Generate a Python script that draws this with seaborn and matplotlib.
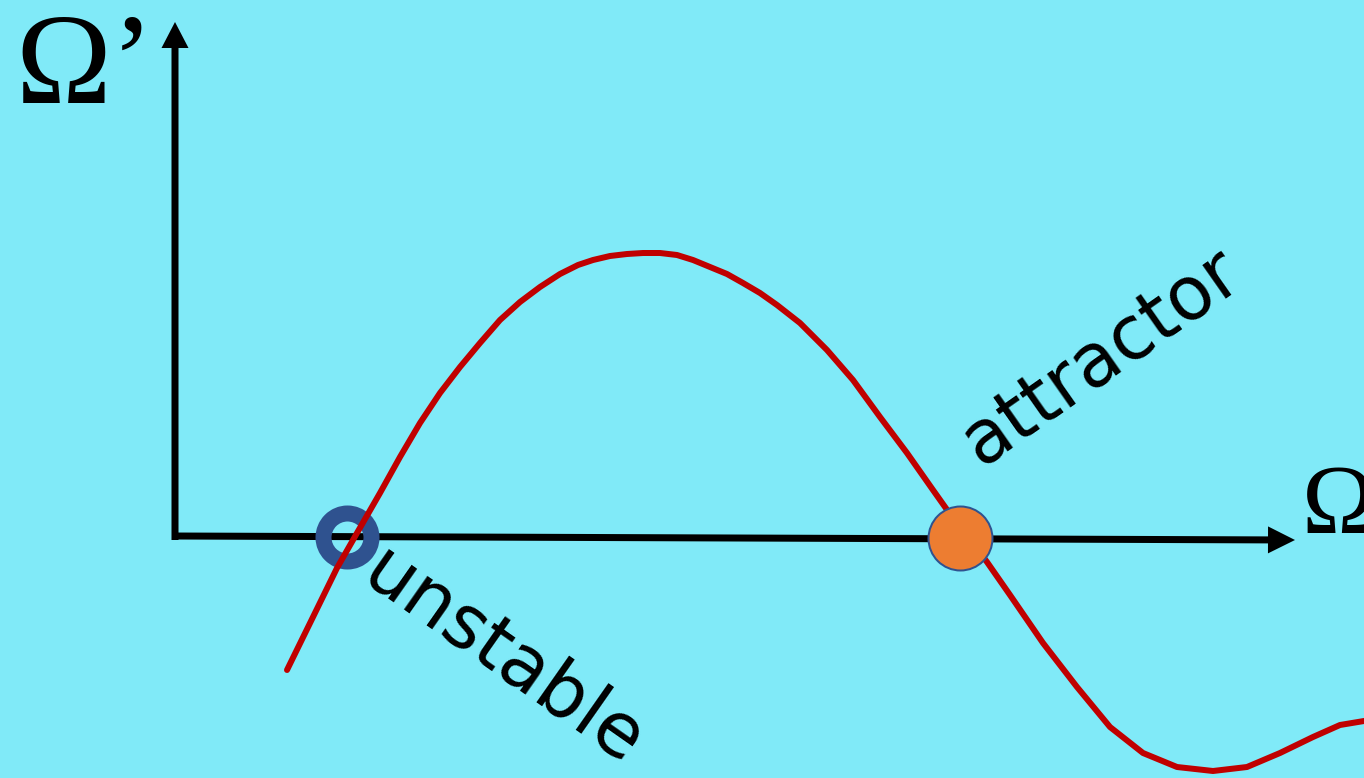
import matplotlib
matplotlib.use("Agg")
import matplotlib.pyplot as plt
import seaborn as sns
import pandas as pd

# ---- data (in picture units: x to the right, y downward) ----
curve_x = [287, 313, 337, 357, 380, 400, 420, 440, 460, 480, 500, 520, 540, 560,
           578, 593, 610, 627, 643, 660, 677, 693, 710, 727, 743, 760, 777, 800,
           827, 853, 880, 907, 933, 950, 987, 1010, 1043, 1077, 1110, 1143,
           1177, 1213, 1247, 1280, 1313, 1340, 1364]
curve_y = [670, 617, 568, 533, 493, 457, 423, 393, 367, 343, 320, 302, 287, 274,
           265, 260, 256, 254, 253, 253, 255, 260, 267, 274, 283, 293, 305, 323,
           350, 380, 417, 453, 490, 514, 562, 595, 643, 687, 727, 753,
           767, 771, 767, 753, 737, 725, 721]
unstable_pt = (347, 537)
attractor_pt = (960, 538)
labels = {"y_axis": "Ω’", "x_axis": "Ω", "unstable": "unstable", "attractor": "attractor"}

BG = "#80EAF8"
sns.set_theme(style="white")
plt.rcParams["font.family"] = ["DejaVu Sans"]

fig = plt.figure(figsize=(13.64, 7.78), dpi=100)
fig.patch.set_facecolor(BG)
ax = fig.add_axes([0, 0, 1, 1])
ax.set_facecolor(BG)

# axes arrows
ax.arrow(175, 540, 0, 22 - 540, width=7, head_width=27, head_length=26,
         length_includes_head=True, fc="black", ec="none", zorder=2)
ax.arrow(172, 536, 1295 - 172, 540 - 536, width=7, head_width=27, head_length=27,
         length_includes_head=True, fc="black", ec="none", zorder=2)

# unstable ring (below curve)
ring = pd.DataFrame({"x": [unstable_pt[0]], "y": [unstable_pt[1]]})
ax.plot(ring["x"], ring["y"], "o", ms=48 * 0.72, mfc="none", mec="#2F528F",
        mew=16 * 0.72, zorder=3)

# curve
df = pd.DataFrame({"x": curve_x, "y": curve_y})
sns.lineplot(data=df, x="x", y="y", ax=ax, color="#C00000", lw=6 * 0.72,
             sort=False, estimator=None, zorder=4)

# attractor dot (above curve)
att = pd.DataFrame({"x": [attractor_pt[0]], "y": [attractor_pt[1]]})
sns.scatterplot(data=att, x="x", y="y", ax=ax, s=(64 * 0.72) ** 2,
                color="#ED7D31", edgecolor="#2F528F", linewidth=2 * 0.72, zorder=5)

# text
ax.text(15, 103, labels["y_axis"], family=["Liberation Serif"], fontsize=93,
        ha="left", va="baseline", color="black")
ax.text(1302, 533, labels["x_axis"], family=["Liberation Serif"], fontsize=71,
        ha="left", va="baseline", color="black")
ax.text(1102, 358, labels["attractor"], fontsize=53, rotation=35,
        ha="center", va="center", color="black")
ax.text(503, 658, labels["unstable"], fontsize=54, rotation=-35,
        ha="center", va="center", color="black")

ax.set_xlim(0, 1364)
ax.set_ylim(778, 0)
ax.axis("off")

fig.savefig("out.png", dpi=100, facecolor=BG)
